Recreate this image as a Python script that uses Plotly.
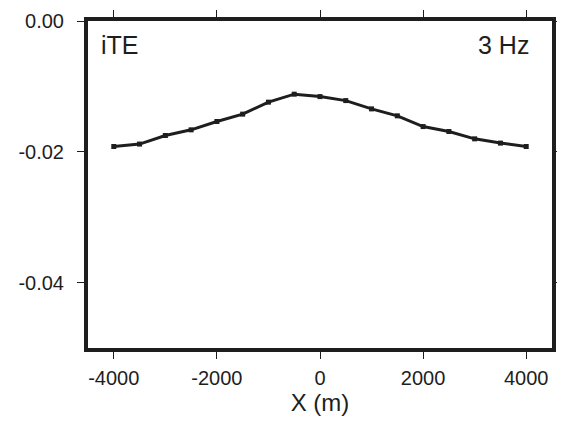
import plotly.graph_objects as go

x_m = [-4000, -3500, -3000, -2500, -2000, -1500, -1000, -500, 0,
       500, 1000, 1500, 2000, 2500, 3000, 3500, 4000]
ite = [-0.01919, -0.01882, -0.01751, -0.01664, -0.01537, -0.01424, -0.01241, -0.01119, -0.01156,
       -0.01217, -0.01344, -0.01450, -0.01614, -0.01690, -0.01802, -0.01867, -0.01919]

x_ticks = [-4000, -2000, 0, 2000, 4000]
x_ticktext = ["-4000", "-2000", "0", "2000", "4000"]
y_ticks = [0.0, -0.02, -0.04]
y_ticktext = ["0.00", "-0.02", "-0.04"]

FONT = "Liberation Sans, Arial, sans-serif"
INK = "#1e1e1e"

fig = go.Figure()
fig.add_trace(go.Scatter(
    x=x_m, y=ite, mode="lines+markers",
    line=dict(color=INK, width=3),
    marker=dict(symbol="square", size=5, color=INK),
    showlegend=False,
))

axis_common = dict(
    showgrid=False, zeroline=False, showline=True, linecolor=INK, linewidth=4,
    mirror="allticks", ticks="outside", ticklen=7, tickwidth=1, tickcolor=INK,
    tickfont=dict(family=FONT, size=20, color=INK), automargin=False,
)

fig.update_xaxes(range=[-4500, 4500], tickvals=x_ticks, ticktext=x_ticktext,
                 ticklabelstandoff=2,
                 title=dict(text="X (m)", font=dict(family=FONT, size=24, color=INK), standoff=4),
                 **axis_common)
fig.update_yaxes(range=[-0.05, 0.0], tickvals=y_ticks, ticktext=y_ticktext,
                 ticklabelstandoff=9, **axis_common)

fig.add_annotation(text="iTE", xref="paper", yref="paper", x=0.024, y=0.928,
                   xanchor="left", yanchor="middle", showarrow=False,
                   font=dict(family=FONT, size=25, color=INK))
fig.add_annotation(text="3 Hz", xref="paper", yref="paper", x=0.955, y=0.928,
                   xanchor="right", yanchor="middle", showarrow=False,
                   font=dict(family=FONT, size=25, color=INK))

fig.update_layout(
    width=557, height=420,
    margin=dict(l=80, r=13, t=13, b=80),
    plot_bgcolor="white", paper_bgcolor="white",
)

fig.write_html("out.html")
